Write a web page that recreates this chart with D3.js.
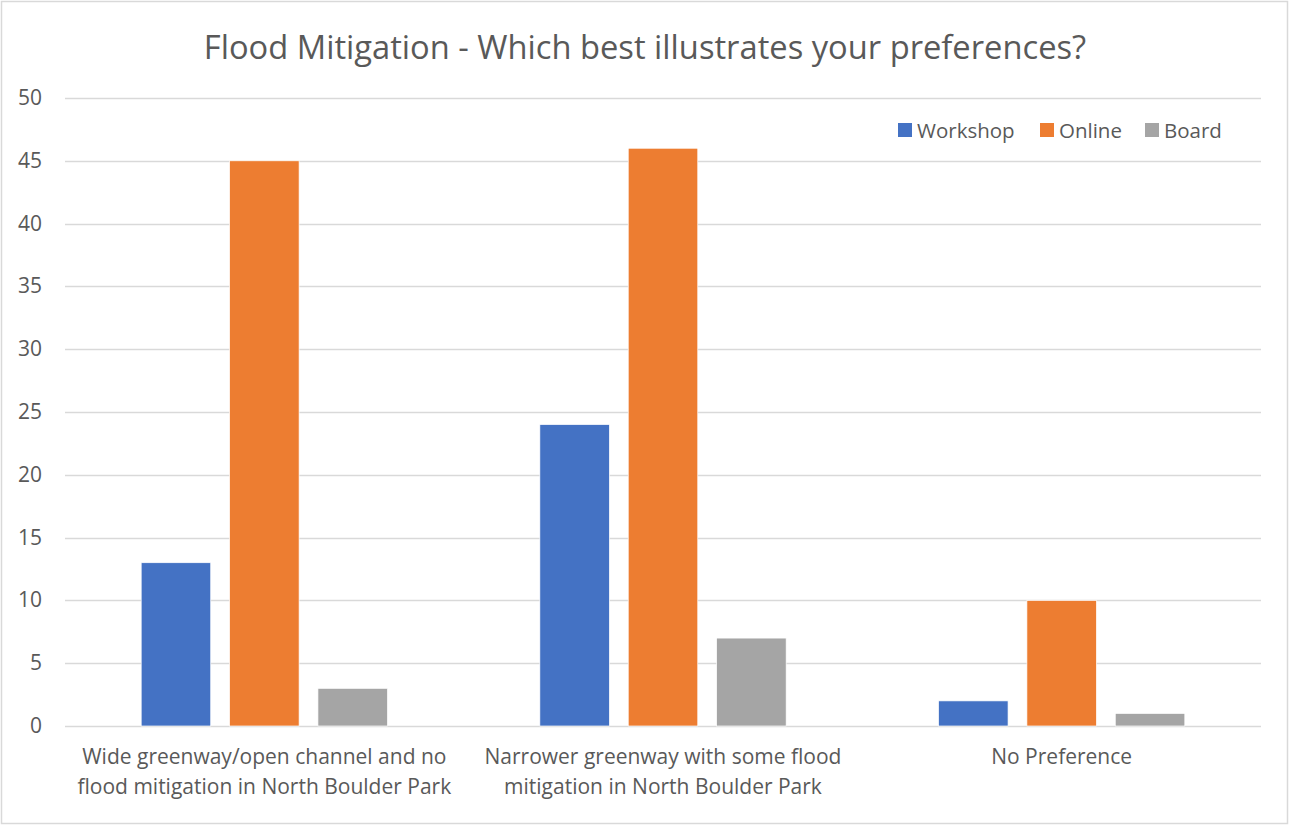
<!DOCTYPE html>
<html lang="en">
<head>
<meta charset="UTF-8">
<title>Flood Mitigation</title>
<script src="https://d3js.org/d3.v7.min.js"></script>
<style>
body { margin: 0; background: #fff; }
text { font-family: "Open Sans", Lato, sans-serif; fill: #595959; }
</style>
</head>
<body>
<script>
// chart data
var categories = [
  ["Wide greenway/open channel and no", "flood mitigation in North Boulder Park"],
  ["Narrower greenway with some flood", "mitigation in North Boulder Park"],
  ["No Preference"]
];
var series = ["Workshop", "Online", "Board"];
var workshop = [13, 24, 2];
var online = [45, 46, 10];
var board = [3, 7, 1];
var yTicks = [0, 5, 10, 15, 20, 25, 30, 35, 40, 45, 50];
var colors = ["#4472C4", "#ED7D31", "#A5A5A5"];

var width = 1289, height = 825;
var plotL = 65, plotR = 1261, plotT = 98, plotB = 726;

var svg = d3.select("body").append("svg")
  .attr("width", width)
  .attr("height", height);

// outer border
svg.append("rect")
  .attr("x", 1.5).attr("y", 1.5)
  .attr("width", width - 3).attr("height", height - 3)
  .attr("fill", "#fff")
  .attr("stroke", "#d9d9d9")
  .attr("stroke-width", 1.5);

svg.append("text")
  .attr("x", 645).attr("y", 59)
  .attr("text-anchor", "middle")
  .style("font-size", "32.7px")
  .text("Flood Mitigation - Which best illustrates your preferences?");

var y = d3.scaleLinear().domain([0, 50]).range([plotB, plotT]);
var x0 = d3.scaleBand().domain(d3.range(categories.length)).range([plotL, plotR]);
var x1 = d3.scaleBand().domain(series).range([0, x0.bandwidth()])
  .paddingInner(0.213).paddingOuter(0.862);

// gridlines
svg.append("g").selectAll("line")
  .data(yTicks)
  .enter().append("line")
  .attr("x1", plotL).attr("x2", plotR)
  .attr("y1", function(d) { return Math.round(y(d)) + 0.5; })
  .attr("y2", function(d) { return Math.round(y(d)) + 0.5; })
  .attr("stroke", "#d9d9d9")
  .attr("stroke-width", 1.3);

svg.append("g").selectAll("text")
  .data(yTicks)
  .enter().append("text")
  .attr("x", 42)
  .attr("y", function(d) { return y(d) + 7; })
  .attr("text-anchor", "end")
  .style("font-size", "21px")
  .text(function(d) { return d; });

var values = [workshop, online, board];
var bars = [];
categories.forEach(function(c, i) {
  series.forEach(function(s, j) {
    bars.push({ cat: i, series: s, value: values[j][i], color: colors[j] });
  });
});

svg.append("g").selectAll("rect")
  .data(bars)
  .enter().append("rect")
  .attr("x", function(d) { return x0(d.cat) + x1(d.series); })
  .attr("y", function(d) { return y(d.value); })
  .attr("width", x1.bandwidth())
  .attr("height", function(d) { return y(0) - y(d.value); })
  .attr("fill", function(d) { return d.color; })
  .attr("stroke", "#fff")
  .attr("stroke-width", 0.7);

// category labels
var cl = svg.append("g").selectAll("text")
  .data(categories)
  .enter().append("text")
  .attr("text-anchor", "middle")
  .style("font-size", "21px")
  .attr("x", function(d, i) { return x0(i) + x0.bandwidth() / 2; })
  .attr("y", 764);
cl.selectAll("tspan")
  .data(function(d) { return d; })
  .enter().append("tspan")
  .attr("x", function() { return d3.select(this.parentNode).attr("x"); })
  .attr("dy", function(d, i) { return i === 0 ? 0 : 30; })
  .text(function(d) { return d; });

// legend
var legendX = [898, 1040, 1145];
var lg = svg.append("g").selectAll("g")
  .data(series)
  .enter().append("g")
  .attr("transform", function(d, i) { return "translate(" + legendX[i] + ",123)"; });
lg.append("rect")
  .attr("width", 14).attr("height", 14)
  .attr("fill", function(d, i) { return colors[i]; });
lg.append("text")
  .attr("x", 19).attr("y", 14.5)
  .style("font-size", "20.5px")
  .text(function(d) { return d; });
</script>
</body>
</html>
